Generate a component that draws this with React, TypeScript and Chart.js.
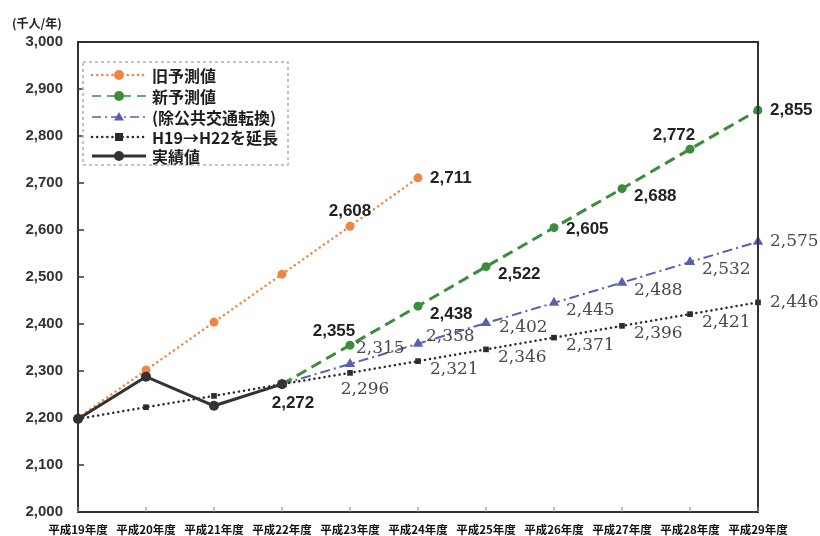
import { useEffect, useRef } from 'react';
import { Chart, registerables } from 'chart.js';

Chart.register(...registerables);

const categories = ['平成19年度', '平成20年度', '平成21年度', '平成22年度', '平成23年度', '平成24年度', '平成25年度', '平成26年度', '平成27年度', '平成28年度', '平成29年度'];
const oldForecast = [2200, 2302, 2404, 2506, 2608, 2711, null, null, null, null, null];
const newForecast = [null, null, null, 2272, 2355, 2438, 2522, 2605, 2688, 2772, 2855];
const exclTransit = [null, null, null, 2272, 2315, 2358, 2402, 2445, 2488, 2532, 2575];
const trendExt = [2198, 2223, 2247, 2272, 2296, 2321, 2346, 2371, 2396, 2421, 2446];
const actual = [2198, 2288, 2226, 2272, null, null, null, null, null, null, null];
const yTicks = [2000, 2100, 2200, 2300, 2400, 2500, 2600, 2700, 2800, 2900, 3000];

const seriesNames = ['旧予測値', '新予測値', '(除公共交通転換)', 'H19→H22を延長', '実績値'];

// label anchor keys per point (null = no label)
const oldAnchors = [null, null, null, null, 'A', 'R', null, null, null, null, null];
const newAnchors = [null, null, null, null, 'AL', 'RL', 'RL', 'R2', 'RL', 'AL', 'R'];
const exclAnchors = [null, null, null, null, 'RH', 'RM', 'RL5', 'RL', 'RL', 'RL', 'R'];
const trendAnchors = [null, null, null, null, 'BR', 'RL', 'RL', 'RL', 'RL', 'RL', 'R'];
const actualAnchors = [null, null, null, 'B', null, null, null, null, null, null, null];

const ANCHORS: Record<string, { dx: number; dy: number; align: CanvasTextAlign }> = {
  R: { dx: 12, dy: 0, align: 'left' },
  R2: { dx: 12, dy: 2, align: 'left' },
  RL: { dx: 12, dy: 8, align: 'left' },
  RL5: { dx: 13, dy: 5, align: 'left' },
  RH: { dx: 6, dy: -15, align: 'left' },
  RM: { dx: 8, dy: -7, align: 'left' },
  A: { dx: 0, dy: -15, align: 'center' },
  AL: { dx: -16, dy: -14, align: 'center' },
  B: { dx: 11, dy: 19, align: 'center' },
  BR: { dx: 15, dy: 17, align: 'center' },
};

const ORANGE = '#ef8647';
const GREEN = '#3b8c3b';
const BLUE = '#5a5fae';
const DARK = '#2b2b2b';
const ACT = '#333333';

const SANS_BOLD = 'bold 17px "Liberation Sans", Arial, sans-serif';
const SERIF = '17px "DejaVu Serif", serif';

const labelConfig = [
  { anchors: oldAnchors, font: SANS_BOLD, color: '#222' },
  { anchors: newAnchors, font: SANS_BOLD, color: '#222' },
  { anchors: exclAnchors, font: SERIF, color: '#4a4a4a' },
  { anchors: trendAnchors, font: SERIF, color: '#4a4a4a' },
  { anchors: actualAnchors, font: SANS_BOLD, color: '#222' },
];

const legendStyles = [
  { color: ORANGE, dash: [0.1, 5], width: 2.5, cap: 'round', marker: 'circle', r: 5 },
  { color: GREEN, dash: [9, 6], width: 1.5, cap: 'butt', marker: 'circle', r: 5 },
  { color: BLUE, dash: [9, 4, 2, 4], width: 1.5, cap: 'butt', marker: 'triangle', r: 5 },
  { color: DARK, dash: [0.1, 5], width: 2.5, cap: 'round', marker: 'rect', r: 4 },
  { color: ACT, dash: [], width: 3, cap: 'butt', marker: 'circle', r: 5 },
];

function drawMarker(ctx: CanvasRenderingContext2D, kind: string, x: number, y: number, r: number, color: string) {
  ctx.save();
  ctx.fillStyle = color;
  ctx.beginPath();
  if (kind === 'circle') {
    ctx.arc(x, y, r, 0, Math.PI * 2);
  } else if (kind === 'triangle') {
    ctx.moveTo(x, y - r);
    ctx.lineTo(x + r, y + r * 0.7);
    ctx.lineTo(x - r, y + r * 0.7);
    ctx.closePath();
  } else {
    ctx.rect(x - r, y - r, r * 2, r * 2);
  }
  ctx.fill();
  ctx.restore();
}

const decorPlugin = {
  id: 'decor',
  afterDatasetsDraw(chart: any) {
    const ctx: CanvasRenderingContext2D = chart.ctx;
    const area = chart.chartArea;
    const xs = chart.scales.x;
    const ys = chart.scales.y;
    ctx.save();
    // value labels
    labelConfig.forEach((cfg, i) => {
      const meta = chart.getDatasetMeta(i);
      const data = chart.data.datasets[i].data;
      meta.data.forEach((pt: any, j: number) => {
        const key = cfg.anchors[j];
        if (!key || data[j] == null) return;
        const o = ANCHORS[key];
        ctx.font = cfg.font;
        ctx.fillStyle = cfg.color;
        ctx.textAlign = o.align;
        ctx.textBaseline = 'middle';
        ctx.fillText(Number(data[j]).toLocaleString('en-US'), pt.x + o.dx, pt.y + o.dy);
      });
    });
    // frame
    ctx.strokeStyle = '#333';
    ctx.lineWidth = 2;
    ctx.setLineDash([]);
    ctx.strokeRect(area.left, area.top, area.right - area.left, area.bottom - area.top);
    // inward ticks
    ctx.lineWidth = 1.5;
    yTicks.forEach((v) => {
      const y = ys.getPixelForValue(v);
      ctx.beginPath();
      ctx.moveTo(area.left, y);
      ctx.lineTo(area.left + 6, y);
      ctx.stroke();
    });
    ctx.strokeStyle = '#888';
    ctx.lineWidth = 1;
    categories.forEach((_, i) => {
      const x = xs.getPixelForValue(i);
      ctx.beginPath();
      ctx.moveTo(x, area.bottom);
      ctx.lineTo(x, area.bottom - 5);
      ctx.stroke();
    });
    // unit label
    ctx.font = 'bold 12px "Noto Sans CJK JP", sans-serif';
    ctx.fillStyle = '#222';
    ctx.textAlign = 'left';
    ctx.textBaseline = 'middle';
    ctx.fillText('(千人/年)', 12, 23);
    // legend
    const bx = 83, by = 62, bw = 205, bh = 103;
    ctx.fillStyle = 'rgba(255,255,255,0.9)';
    ctx.fillRect(bx, by, bw, bh);
    ctx.strokeStyle = '#b0b0b0';
    ctx.lineWidth = 1.5;
    ctx.setLineDash([3, 3]);
    ctx.strokeRect(bx, by, bw, bh);
    const rows = [75, 96, 117, 137, 156];
    legendStyles.forEach((s, i) => {
      const y = rows[i];
      ctx.save();
      ctx.strokeStyle = s.color;
      ctx.lineWidth = s.width;
      ctx.lineCap = s.cap as CanvasLineCap;
      ctx.setLineDash(s.dash);
      ctx.beginPath();
      ctx.moveTo(92, y);
      ctx.lineTo(146, y);
      ctx.stroke();
      ctx.restore();
      drawMarker(ctx, s.marker, 119, y, s.r, s.color);
      ctx.font = 'bold 16px "Noto Sans CJK JP", sans-serif';
      ctx.fillStyle = '#1e1e1e';
      ctx.textAlign = 'left';
      ctx.textBaseline = 'middle';
      ctx.fillText(seriesNames[i], 152, y + 1);
    });
    ctx.restore();
  },
};

export default function App() {
  const ref = useRef<HTMLCanvasElement | null>(null);
  useEffect(() => {
    document.body.style.margin = '0';
    const canvas = ref.current;
    if (!canvas) return;
    const chart = new Chart(canvas, {
      type: 'line',
      data: {
        labels: categories,
        datasets: [
          {
            label: seriesNames[0], data: oldForecast, borderColor: ORANGE, backgroundColor: ORANGE,
            borderWidth: 2.5, borderDash: [0.1, 5], borderCapStyle: 'round', pointStyle: 'circle',
            pointRadius: 4.5, pointBorderWidth: 0, order: 5, spanGaps: false,
          },
          {
            label: seriesNames[1], data: newForecast, borderColor: GREEN, backgroundColor: GREEN,
            borderWidth: 3, borderDash: [11, 6], pointStyle: 'circle', pointRadius: 4.5, pointBorderWidth: 0, order: 3,
          },
          {
            label: seriesNames[2], data: exclTransit, borderColor: BLUE, backgroundColor: BLUE,
            borderWidth: 2, borderDash: [10, 4, 2, 4], pointStyle: 'triangle', pointRadius: 6, pointBorderWidth: 0, order: 4,
          },
          {
            label: seriesNames[3], data: trendExt, borderColor: DARK, backgroundColor: DARK,
            borderWidth: 2.5, borderDash: [0.1, 5], borderCapStyle: 'round', pointStyle: 'rect',
            pointRadius: 4, pointBorderWidth: 0, order: 2,
          },
          {
            label: seriesNames[4], data: actual, borderColor: ACT, backgroundColor: ACT,
            borderWidth: 3, pointStyle: 'circle', pointRadius: 5, pointBorderWidth: 0, order: 1,
          },
        ],
      },
      options: {
        responsive: false,
        animation: false,
        layout: { padding: { top: 42, right: 62, left: 0, bottom: 0 } },
        plugins: { legend: { display: false }, tooltip: { enabled: false } },
        scales: {
          x: {
            offset: false,
            grid: { display: false, drawTicks: false },
            border: { display: false },
            ticks: {
              color: '#111', padding: 11, maxRotation: 0, autoSkip: false,
              font: { family: '"Noto Sans CJK JP", sans-serif', size: 11.5, weight: 'bold' },
            },
            afterFit: (s: any) => { s.height = 24; },
          },
          y: {
            min: 2000, max: 3000,
            grid: { display: false, drawTicks: false },
            border: { display: false },
            ticks: {
              stepSize: 100, padding: 15, color: '#333',
              font: { family: '"Liberation Sans", Arial, sans-serif', size: 15, weight: 'bold' },
              callback: (v: any) => Number(v).toLocaleString('en-US'),
            },
            afterFit: (s: any) => { s.width = 78; },
          },
        },
      },
      plugins: [decorPlugin],
    } as any);
    return () => chart.destroy();
  }, []);
  return (
    <div style={{ position: 'fixed', left: 0, top: 0, width: 820, height: 536, background: '#fff' }}>
      <canvas ref={ref} width={820} height={536} />
    </div>
  );
}
